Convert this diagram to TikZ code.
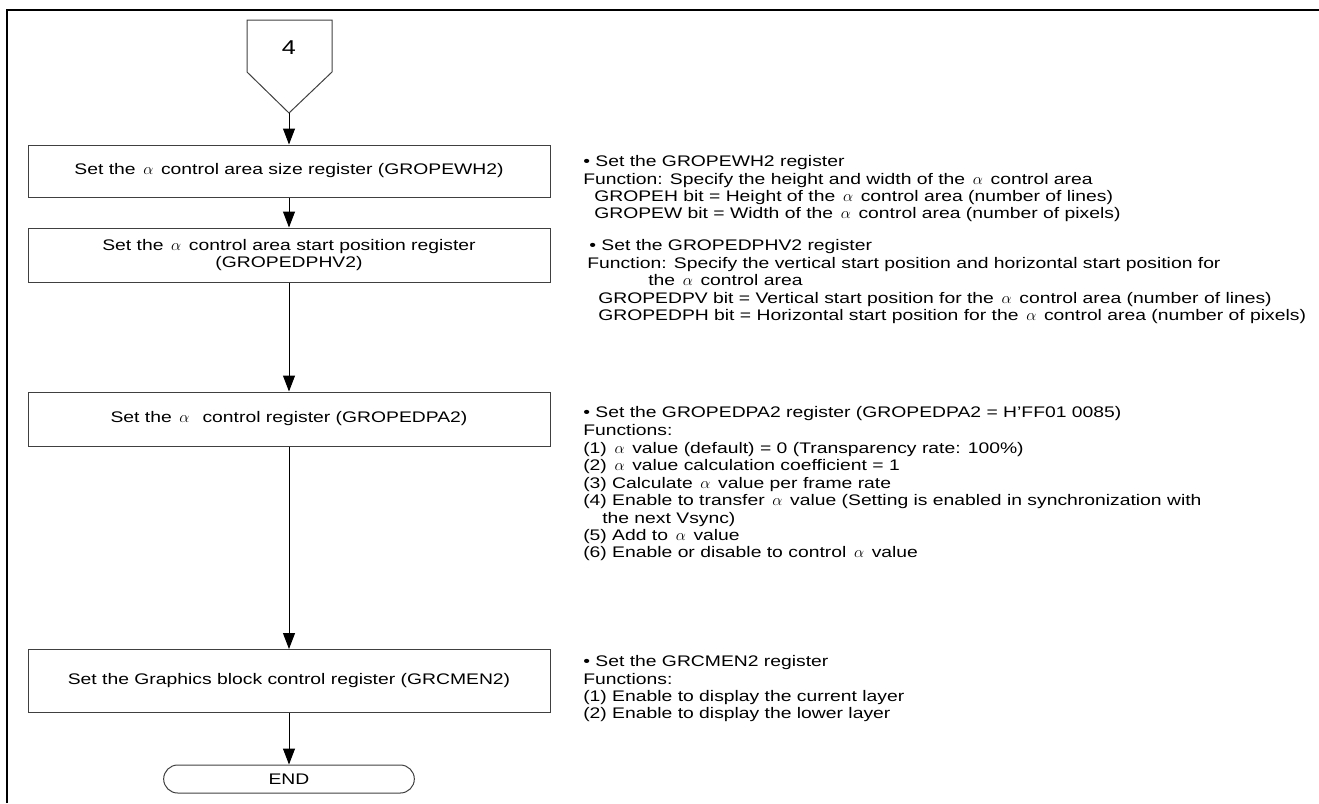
\documentclass[tikz,border=0pt]{standalone}
\usepackage{fontspec}
\setmainfont{Liberation Sans}[FakeStretch=1.26]
\usetikzlibrary{arrows.meta}
\newcommand{\al}{\hspace{0.5em}$\alpha$\hspace{0.5em}}
\newcommand{\fs}{\fontsize{11.5pt}{13.1pt}\selectfont}
\begin{document}
\begin{tikzpicture}[x=0.75pt,y=-0.75pt,
  box/.style={draw=black!75, line width=0.75pt, minimum width=391.5pt, inner sep=0pt, align=center, font=\fs},
  txt/.style={anchor=base west, inner sep=0pt, font=\fs},
  arr/.style={-{Triangle[width=9pt,length=12pt]}, line width=0.75pt}]
\useasboundingbox (0,0) rectangle (1319,803);
\draw[line width=1.5pt] (7,803) -- (7,10) -- (1319,10);
% off-page connector
\draw[draw=black!75, line width=0.75pt] (247,20) -- (332,20) -- (332,72) -- (289,113) -- (247,72) -- cycle;
\node[font=\fontsize{15pt}{17pt}\selectfont] (c4) at (289,48) {4};
\coordinate (tip) at (289,113);
% boxes
\node[box, minimum height=39pt] (b1) at (289,171) {Set the\al control area size register (GROPEWH2)};
\node[box, minimum height=40.5pt] (b2) at (289,255) {Set the\al control area start position register\\(GROPEDPHV2)};
\node[box, minimum height=40.5pt] (b3) at (289,419) {Set the\al\ control register (GROPEDPA2)};
\node[box, minimum height=47.25pt] (b4) at (289,681) {Set the Graphics block control register (GRCMEN2)};
\node[draw=black!75, line width=0.75pt, rounded corners=10.5pt, minimum width=188pt, minimum height=21pt, inner sep=0pt, font=\fs] (end) at (289,779) {END};
% connectors
\draw[arr] (tip) -- (b1.north);
\draw[arr] (b1.south) -- (b2.north);
\draw[arr] (b2.south) -- (b3.north);
\draw[arr] (b3.south) -- (b4.north);
\draw[arr] (b4.south) -- (end.north);
% block 1
\node[txt] (t11) at (583,166) {• Set the GROPEWH2 register};
\node[txt] (t12) at (583,184) {Function: Specify the height and width of the\al control area};
\node[txt] (t13) at (594,201) {GROPEH bit = Height of the\al control area (number of lines)};
\node[txt] (t14) at (594,218) {GROPEW bit = Width of the\al control area (number of pixels)};
% block 2
\node[txt] (t21) at (589,250) {• Set the GROPEDPHV2 register};
\node[txt] (t22) at (587,268) {Function: Specify the vertical start position and horizontal start position for};
\node[txt] (t23) at (648,285) {the\al control area};
\node[txt] (t24) at (598,303) {GROPEDPV bit = Vertical start position for the\al control area (number of lines)};
\node[txt] (t25) at (598,320) {GROPEDPH bit = Horizontal start position for the\al control area (number of pixels)};
% block 3
\node[txt] (t31) at (583,417) {• Set the GROPEDPA2 register (GROPEDPA2 = H'FF01 0085)};
\node[txt] (t32) at (583,435) {Functions:};
\node[txt] (t33) at (583,453) {(1)\al value (default) = 0 (Transparency rate: 100\%)};
\node[txt] (t34) at (583,470) {(2)\al value calculation coefficient = 1};
\node[txt] (t35) at (583,488) {(3) Calculate\al value per frame rate};
\node[txt] (t36) at (583,505) {(4) Enable to transfer\al value (Setting is enabled in synchronization with};
\node[txt] (t37) at (602,523) {the next Vsync)};
\node[txt] (t38) at (583,540) {(5) Add to\al value};
\node[txt] (t39) at (583,557) {(6) Enable or disable to control\al value};
% block 4
\node[txt] (t41) at (583,666) {• Set the GRCMEN2 register};
\node[txt] (t42) at (583,684) {Functions:};
\node[txt] (t43) at (583,701) {(1) Enable to display the current layer};
\node[txt] (t44) at (583,718) {(2) Enable to display the lower layer};
\end{tikzpicture}
\end{document}
